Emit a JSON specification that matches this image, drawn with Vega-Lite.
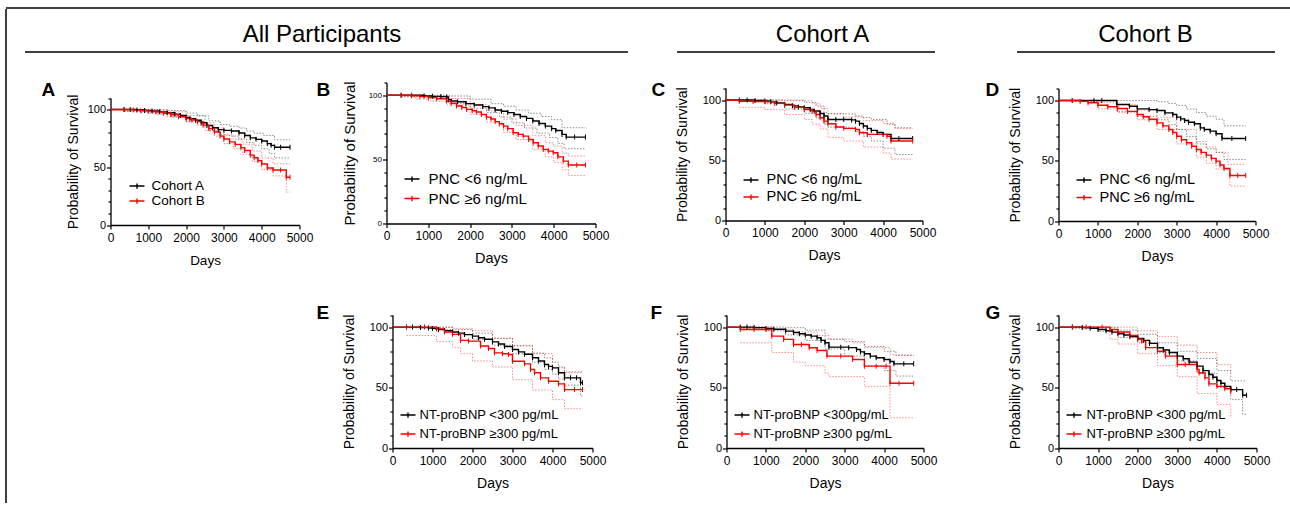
{
"$schema":"https://vega.github.io/schema/vega-lite/v6.json",
"padding":{"left":5.5,"top":7.5,"right":0,"bottom":0},
"background":"white",
"config":{"view":{"stroke":null},"font":"Liberation Sans",
"axis":{"grid":false,"domainColor":"#000","domainWidth":1.3,"tickColor":"#000","tickWidth":1.2,"labelColor":"#000","titleColor":"#000","titleFontWeight":"normal","labelFlush":false,"labelOverlap":false},
"legend":{"padding":0,"symbolSize":225,"symbolStrokeWidth":1.4,"labelColor":"#000","orient":"bottom-left"},
"title":{"color":"#000"}},
"resolve":{"scale":{"color":"independent"},"legend":{"color":"independent"}},
"datasets":{
"A":[
{"g":"a","s":"e","d":0,"p":100,"c":0},{"g":"a","s":"e","d":360,"p":100,"c":1},{"g":"a","s":"e","d":520,"p":100,"c":1},{"g":"a","s":"e","d":700,"p":99.6,"c":1},{"g":"a","s":"e","d":900,"p":99.2,"c":1},{"g":"a","s":"e","d":1100,"p":98.8,"c":1},{"g":"a","s":"e","d":1300,"p":98,"c":1},{"g":"a","s":"e","d":1500,"p":97.2,"c":1},{"g":"a","s":"e","d":1700,"p":96,"c":1},{"g":"a","s":"e","d":1850,"p":94.8,"c":1},{"g":"a","s":"e","d":2000,"p":93.2,"c":1},{"g":"a","s":"e","d":2100,"p":92,"c":1},{"g":"a","s":"e","d":2250,"p":90.7,"c":1},{"g":"a","s":"e","d":2400,"p":88.5,"c":1},{"g":"a","s":"e","d":2550,"p":86.2,"c":1},{"g":"a","s":"e","d":2700,"p":84.2,"c":1},{"g":"a","s":"e","d":2850,"p":82.6,"c":1},{"g":"a","s":"e","d":3000,"p":82,"c":1},{"g":"a","s":"e","d":3200,"p":81.4,"c":1},{"g":"a","s":"e","d":3400,"p":79.7,"c":1},{"g":"a","s":"e","d":3550,"p":77.5,"c":1},{"g":"a","s":"e","d":3700,"p":75.5,"c":1},{"g":"a","s":"e","d":3850,"p":74.2,"c":1},{"g":"a","s":"e","d":4000,"p":72.7,"c":1},{"g":"a","s":"e","d":4150,"p":70.5,"c":1},{"g":"a","s":"e","d":4250,"p":69,"c":1},{"g":"a","s":"e","d":4340,"p":67.4,"c":1},{"g":"a","s":"e","d":4500,"p":67.4,"c":1},{"g":"a","s":"e","d":4750,"p":67.4,"c":1},
{"g":"a","s":"u","d":360,"p":100},{"g":"a","s":"u","d":1000,"p":99.8},{"g":"a","s":"u","d":1500,"p":99.2},{"g":"a","s":"u","d":2000,"p":97},{"g":"a","s":"u","d":2300,"p":94.5},{"g":"a","s":"u","d":2600,"p":90.2},{"g":"a","s":"u","d":2900,"p":87},{"g":"a","s":"u","d":3150,"p":85.5},{"g":"a","s":"u","d":3400,"p":84},{"g":"a","s":"u","d":3600,"p":81.4},{"g":"a","s":"u","d":3800,"p":79.5},{"g":"a","s":"u","d":4050,"p":77.6},{"g":"a","s":"u","d":4340,"p":73.8},{"g":"a","s":"u","d":4750,"p":73.8},
{"g":"a","s":"l","d":360,"p":98.5},{"g":"a","s":"l","d":800,"p":97.5},{"g":"a","s":"l","d":1200,"p":96},{"g":"a","s":"l","d":1600,"p":93.5},{"g":"a","s":"l","d":2000,"p":89.5},{"g":"a","s":"l","d":2300,"p":86.5},{"g":"a","s":"l","d":2600,"p":81.5},{"g":"a","s":"l","d":2900,"p":78},{"g":"a","s":"l","d":3150,"p":77},{"g":"a","s":"l","d":3400,"p":74.5},{"g":"a","s":"l","d":3600,"p":71.5},{"g":"a","s":"l","d":3800,"p":69},{"g":"a","s":"l","d":4000,"p":66},{"g":"a","s":"l","d":4200,"p":62},{"g":"a","s":"l","d":4340,"p":58.1},{"g":"a","s":"l","d":4750,"p":58.1},
{"g":"b","s":"e","d":0,"p":100,"c":0},{"g":"b","s":"e","d":360,"p":100,"c":1},{"g":"b","s":"e","d":600,"p":99.5,"c":1},{"g":"b","s":"e","d":800,"p":99,"c":1},{"g":"b","s":"e","d":1000,"p":98.6,"c":1},{"g":"b","s":"e","d":1200,"p":97.8,"c":1},{"g":"b","s":"e","d":1400,"p":96.8,"c":1},{"g":"b","s":"e","d":1600,"p":95.5,"c":1},{"g":"b","s":"e","d":1800,"p":93.8,"c":1},{"g":"b","s":"e","d":2000,"p":92.2,"c":1},{"g":"b","s":"e","d":2150,"p":91,"c":1},{"g":"b","s":"e","d":2300,"p":89.5,"c":1},{"g":"b","s":"e","d":2450,"p":86.5,"c":1},{"g":"b","s":"e","d":2600,"p":83.5,"c":1},{"g":"b","s":"e","d":2750,"p":80.5,"c":1},{"g":"b","s":"e","d":2900,"p":77,"c":1},{"g":"b","s":"e","d":3000,"p":74.5,"c":1},{"g":"b","s":"e","d":3150,"p":72,"c":1},{"g":"b","s":"e","d":3300,"p":69.8,"c":1},{"g":"b","s":"e","d":3450,"p":67,"c":1},{"g":"b","s":"e","d":3550,"p":64.5,"c":1},{"g":"b","s":"e","d":3700,"p":60.5,"c":1},{"g":"b","s":"e","d":3800,"p":58.2,"c":1},{"g":"b","s":"e","d":3900,"p":55.8,"c":1},{"g":"b","s":"e","d":4000,"p":52.9,"c":1},{"g":"b","s":"e","d":4150,"p":49.4,"c":1},{"g":"b","s":"e","d":4300,"p":47.7,"c":1},{"g":"b","s":"e","d":4500,"p":47.7,"c":1},{"g":"b","s":"e","d":4650,"p":41.3,"c":1},{"g":"b","s":"e","d":4750,"p":41.3,"c":1},
{"g":"b","s":"u","d":360,"p":100},{"g":"b","s":"u","d":1000,"p":99.6},{"g":"b","s":"u","d":1500,"p":98},{"g":"b","s":"u","d":2000,"p":94.8},{"g":"b","s":"u","d":2500,"p":88.5},{"g":"b","s":"u","d":2750,"p":84},{"g":"b","s":"u","d":3000,"p":78},{"g":"b","s":"u","d":3250,"p":74},{"g":"b","s":"u","d":3500,"p":70},{"g":"b","s":"u","d":3750,"p":64},{"g":"b","s":"u","d":4000,"p":58},{"g":"b","s":"u","d":4300,"p":53},{"g":"b","s":"u","d":4750,"p":53},
{"g":"b","s":"l","d":360,"p":98.6},{"g":"b","s":"l","d":1000,"p":96.8},{"g":"b","s":"l","d":1500,"p":93.8},{"g":"b","s":"l","d":2000,"p":89.5},{"g":"b","s":"l","d":2500,"p":81.8},{"g":"b","s":"l","d":2750,"p":77},{"g":"b","s":"l","d":3000,"p":70.5},{"g":"b","s":"l","d":3250,"p":66},{"g":"b","s":"l","d":3500,"p":61},{"g":"b","s":"l","d":3750,"p":55},{"g":"b","s":"l","d":4000,"p":48},{"g":"b","s":"l","d":4300,"p":42.5},{"g":"b","s":"l","d":4650,"p":28.5},{"g":"b","s":"l","d":4750,"p":28.5}
],
"B":[
{"g":"a","s":"e","d":0,"p":100,"c":0},{"g":"a","s":"e","d":350,"p":100,"c":1},{"g":"a","s":"e","d":600,"p":100,"c":1},{"g":"a","s":"e","d":900,"p":99.5,"c":1},{"g":"a","s":"e","d":1100,"p":99.2,"c":1},{"g":"a","s":"e","d":1300,"p":99,"c":1},{"g":"a","s":"e","d":1440,"p":98.7,"c":1},{"g":"a","s":"e","d":1480,"p":96.5,"c":1},{"g":"a","s":"e","d":1550,"p":95.6,"c":1},{"g":"a","s":"e","d":1700,"p":95,"c":1},{"g":"a","s":"e","d":1900,"p":93.5,"c":1},{"g":"a","s":"e","d":2100,"p":92.5,"c":1},{"g":"a","s":"e","d":2300,"p":91.2,"c":1},{"g":"a","s":"e","d":2450,"p":90.2,"c":1},{"g":"a","s":"e","d":2600,"p":88.5,"c":1},{"g":"a","s":"e","d":2750,"p":87.6,"c":1},{"g":"a","s":"e","d":2900,"p":86.5,"c":1},{"g":"a","s":"e","d":3050,"p":85,"c":1},{"g":"a","s":"e","d":3200,"p":83.5,"c":1},{"g":"a","s":"e","d":3350,"p":82,"c":1},{"g":"a","s":"e","d":3500,"p":80,"c":1},{"g":"a","s":"e","d":3650,"p":78,"c":1},{"g":"a","s":"e","d":3800,"p":76,"c":1},{"g":"a","s":"e","d":3950,"p":74,"c":1},{"g":"a","s":"e","d":4050,"p":72.5,"c":1},{"g":"a","s":"e","d":4200,"p":69.5,"c":1},{"g":"a","s":"e","d":4300,"p":67.4,"c":1},{"g":"a","s":"e","d":4500,"p":67.4,"c":1},{"g":"a","s":"e","d":4760,"p":67.4,"c":1},
{"g":"a","s":"u","d":350,"p":100},{"g":"a","s":"u","d":1500,"p":99.5},{"g":"a","s":"u","d":2000,"p":97},{"g":"a","s":"u","d":2500,"p":93.5},{"g":"a","s":"u","d":2800,"p":91.5},{"g":"a","s":"u","d":3100,"p":88.5},{"g":"a","s":"u","d":3400,"p":86},{"g":"a","s":"u","d":3700,"p":83.5},{"g":"a","s":"u","d":3950,"p":81},{"g":"a","s":"u","d":4200,"p":74.7},{"g":"a","s":"u","d":4760,"p":74.7},
{"g":"a","s":"l","d":350,"p":99},{"g":"a","s":"l","d":1000,"p":98},{"g":"a","s":"l","d":1500,"p":93.5},{"g":"a","s":"l","d":2000,"p":90},{"g":"a","s":"l","d":2400,"p":86.5},{"g":"a","s":"l","d":2700,"p":83},{"g":"a","s":"l","d":3000,"p":78.5},{"g":"a","s":"l","d":3300,"p":74.5},{"g":"a","s":"l","d":3600,"p":70.5},{"g":"a","s":"l","d":3900,"p":67},{"g":"a","s":"l","d":4100,"p":62.5},{"g":"a","s":"l","d":4250,"p":58.3},{"g":"a","s":"l","d":4760,"p":58.3},
{"g":"b","s":"e","d":0,"p":100,"c":0},{"g":"b","s":"e","d":350,"p":100,"c":1},{"g":"b","s":"e","d":600,"p":99.6,"c":1},{"g":"b","s":"e","d":800,"p":99,"c":1},{"g":"b","s":"e","d":1000,"p":98.2,"c":1},{"g":"b","s":"e","d":1200,"p":97.3,"c":1},{"g":"b","s":"e","d":1435,"p":95.6,"c":1},{"g":"b","s":"e","d":1550,"p":93.8,"c":1},{"g":"b","s":"e","d":1675,"p":91.7,"c":1},{"g":"b","s":"e","d":1800,"p":90.5,"c":1},{"g":"b","s":"e","d":1915,"p":89,"c":1},{"g":"b","s":"e","d":2050,"p":88,"c":1},{"g":"b","s":"e","d":2150,"p":87,"c":1},{"g":"b","s":"e","d":2270,"p":85,"c":1},{"g":"b","s":"e","d":2390,"p":83,"c":1},{"g":"b","s":"e","d":2500,"p":81.5,"c":1},{"g":"b","s":"e","d":2600,"p":79.5,"c":1},{"g":"b","s":"e","d":2700,"p":77.8,"c":1},{"g":"b","s":"e","d":2800,"p":76,"c":1},{"g":"b","s":"e","d":2900,"p":74,"c":1},{"g":"b","s":"e","d":3030,"p":70.8,"c":1},{"g":"b","s":"e","d":3150,"p":69.5,"c":1},{"g":"b","s":"e","d":3270,"p":68.2,"c":1},{"g":"b","s":"e","d":3400,"p":65.5,"c":1},{"g":"b","s":"e","d":3510,"p":63,"c":1},{"g":"b","s":"e","d":3630,"p":60.5,"c":1},{"g":"b","s":"e","d":3750,"p":57.8,"c":1},{"g":"b","s":"e","d":3870,"p":56.5,"c":1},{"g":"b","s":"e","d":3990,"p":55.2,"c":1},{"g":"b","s":"e","d":4100,"p":52,"c":1},{"g":"b","s":"e","d":4230,"p":48.7,"c":1},{"g":"b","s":"e","d":4350,"p":45.6,"c":1},{"g":"b","s":"e","d":4550,"p":45.6,"c":1},{"g":"b","s":"e","d":4760,"p":45.6,"c":1},
{"g":"b","s":"u","d":350,"p":100},{"g":"b","s":"u","d":1000,"p":99.5},{"g":"b","s":"u","d":1500,"p":97.5},{"g":"b","s":"u","d":2000,"p":93},{"g":"b","s":"u","d":2400,"p":88},{"g":"b","s":"u","d":2800,"p":81.5},{"g":"b","s":"u","d":3100,"p":76.5},{"g":"b","s":"u","d":3500,"p":68.5},{"g":"b","s":"u","d":3800,"p":63},{"g":"b","s":"u","d":4000,"p":60.4},{"g":"b","s":"u","d":4200,"p":55},{"g":"b","s":"u","d":4350,"p":52.6},{"g":"b","s":"u","d":4760,"p":52.6},
{"g":"b","s":"l","d":350,"p":99},{"g":"b","s":"l","d":700,"p":97},{"g":"b","s":"l","d":1000,"p":95.5},{"g":"b","s":"l","d":1450,"p":92.5},{"g":"b","s":"l","d":2000,"p":85},{"g":"b","s":"l","d":2400,"p":79},{"g":"b","s":"l","d":2800,"p":71},{"g":"b","s":"l","d":3100,"p":65.5},{"g":"b","s":"l","d":3500,"p":57.5},{"g":"b","s":"l","d":3800,"p":52},{"g":"b","s":"l","d":4000,"p":47.7},{"g":"b","s":"l","d":4200,"p":42},{"g":"b","s":"l","d":4350,"p":37.5},{"g":"b","s":"l","d":4760,"p":37.5}
],
"C":[
{"g":"a","s":"e","d":0,"p":100,"c":0},{"g":"a","s":"e","d":350,"p":100,"c":1},{"g":"a","s":"e","d":550,"p":100,"c":1},{"g":"a","s":"e","d":750,"p":99.6,"c":1},{"g":"a","s":"e","d":1000,"p":99.2,"c":1},{"g":"a","s":"e","d":1150,"p":98.6,"c":1},{"g":"a","s":"e","d":1300,"p":97.6,"c":1},{"g":"a","s":"e","d":1500,"p":96.4,"c":1},{"g":"a","s":"e","d":1700,"p":95.2,"c":1},{"g":"a","s":"e","d":1850,"p":94.3,"c":1},{"g":"a","s":"e","d":2000,"p":93.6,"c":1},{"g":"a","s":"e","d":2150,"p":92,"c":1},{"g":"a","s":"e","d":2250,"p":90.9,"c":1},{"g":"a","s":"e","d":2400,"p":88.8,"c":1},{"g":"a","s":"e","d":2500,"p":86.7,"c":1},{"g":"a","s":"e","d":2600,"p":83.9,"c":1},{"g":"a","s":"e","d":2800,"p":83.9,"c":1},{"g":"a","s":"e","d":3000,"p":83.9,"c":1},{"g":"a","s":"e","d":3200,"p":83.5,"c":1},{"g":"a","s":"e","d":3300,"p":82.5,"c":1},{"g":"a","s":"e","d":3400,"p":80.5,"c":1},{"g":"a","s":"e","d":3500,"p":78.4,"c":1},{"g":"a","s":"e","d":3600,"p":76.5,"c":1},{"g":"a","s":"e","d":3700,"p":74.8,"c":1},{"g":"a","s":"e","d":3850,"p":73,"c":1},{"g":"a","s":"e","d":4000,"p":71.5,"c":1},{"g":"a","s":"e","d":4200,"p":68.1,"c":1},{"g":"a","s":"e","d":4400,"p":68.1,"c":1},{"g":"a","s":"e","d":4750,"p":68.1,"c":1},
{"g":"a","s":"u","d":350,"p":100},{"g":"a","s":"u","d":1500,"p":99.5},{"g":"a","s":"u","d":2000,"p":98},{"g":"a","s":"u","d":2300,"p":95},{"g":"a","s":"u","d":2500,"p":89.5},{"g":"a","s":"u","d":2600,"p":88.5},{"g":"a","s":"u","d":3300,"p":86.7},{"g":"a","s":"u","d":3500,"p":85.5},{"g":"a","s":"u","d":3700,"p":83.9},{"g":"a","s":"u","d":4100,"p":79.8},{"g":"a","s":"u","d":4300,"p":77},{"g":"a","s":"u","d":4750,"p":77},
{"g":"a","s":"l","d":350,"p":99},{"g":"a","s":"l","d":1000,"p":97},{"g":"a","s":"l","d":1500,"p":92.5},{"g":"a","s":"l","d":2000,"p":89},{"g":"a","s":"l","d":2300,"p":85},{"g":"a","s":"l","d":2500,"p":80},{"g":"a","s":"l","d":2600,"p":77.5},{"g":"a","s":"l","d":3300,"p":74},{"g":"a","s":"l","d":3500,"p":70},{"g":"a","s":"l","d":3700,"p":66},{"g":"a","s":"l","d":4000,"p":60},{"g":"a","s":"l","d":4300,"p":54.8},{"g":"a","s":"l","d":4750,"p":54.8},
{"g":"b","s":"e","d":0,"p":100,"c":0},{"g":"b","s":"e","d":350,"p":99,"c":1},{"g":"b","s":"e","d":700,"p":98.8,"c":1},{"g":"b","s":"e","d":1000,"p":98.6,"c":1},{"g":"b","s":"e","d":1250,"p":97.2,"c":1},{"g":"b","s":"e","d":1500,"p":95.8,"c":1},{"g":"b","s":"e","d":1750,"p":94,"c":1},{"g":"b","s":"e","d":2000,"p":92.2,"c":1},{"g":"b","s":"e","d":2200,"p":90.9,"c":1},{"g":"b","s":"e","d":2300,"p":88,"c":1},{"g":"b","s":"e","d":2400,"p":85.3,"c":1},{"g":"b","s":"e","d":2500,"p":82.5,"c":1},{"g":"b","s":"e","d":2600,"p":80.3,"c":1},{"g":"b","s":"e","d":2800,"p":77.6,"c":1},{"g":"b","s":"e","d":3000,"p":76.5,"c":1},{"g":"b","s":"e","d":3300,"p":75.6,"c":1},{"g":"b","s":"e","d":3400,"p":72.9,"c":1},{"g":"b","s":"e","d":3600,"p":71.5,"c":1},{"g":"b","s":"e","d":4100,"p":70,"c":1},{"g":"b","s":"e","d":4200,"p":66,"c":1},{"g":"b","s":"e","d":4750,"p":66,"c":1},
{"g":"b","s":"u","d":350,"p":100},{"g":"b","s":"u","d":2000,"p":99.5},{"g":"b","s":"u","d":2200,"p":97},{"g":"b","s":"u","d":2400,"p":93},{"g":"b","s":"u","d":2600,"p":88.9},{"g":"b","s":"u","d":3000,"p":86},{"g":"b","s":"u","d":3500,"p":83},{"g":"b","s":"u","d":4000,"p":80.5},{"g":"b","s":"u","d":4300,"p":76.5},{"g":"b","s":"u","d":4750,"p":76.5},
{"g":"b","s":"l","d":350,"p":94},{"g":"b","s":"l","d":1000,"p":92},{"g":"b","s":"l","d":1500,"p":88},{"g":"b","s":"l","d":2000,"p":84},{"g":"b","s":"l","d":2200,"p":80},{"g":"b","s":"l","d":2400,"p":76},{"g":"b","s":"l","d":2600,"p":69},{"g":"b","s":"l","d":3000,"p":66},{"g":"b","s":"l","d":3500,"p":61},{"g":"b","s":"l","d":4000,"p":56},{"g":"b","s":"l","d":4200,"p":51},{"g":"b","s":"l","d":4750,"p":51}
],
"D":[
{"g":"a","s":"e","d":0,"p":100,"c":0},{"g":"a","s":"e","d":350,"p":100,"c":1},{"g":"a","s":"e","d":900,"p":100,"c":1},{"g":"a","s":"e","d":1100,"p":100,"c":1},{"g":"a","s":"e","d":1480,"p":96.7,"c":1},{"g":"a","s":"e","d":1800,"p":95.3,"c":1},{"g":"a","s":"e","d":2000,"p":93.1,"c":1},{"g":"a","s":"e","d":2300,"p":92.5,"c":1},{"g":"a","s":"e","d":2500,"p":91.7,"c":1},{"g":"a","s":"e","d":2700,"p":89.8,"c":1},{"g":"a","s":"e","d":2900,"p":88.4,"c":1},{"g":"a","s":"e","d":3000,"p":86.2,"c":1},{"g":"a","s":"e","d":3100,"p":84.8,"c":1},{"g":"a","s":"e","d":3200,"p":83.4,"c":1},{"g":"a","s":"e","d":3300,"p":82,"c":1},{"g":"a","s":"e","d":3450,"p":80.7,"c":1},{"g":"a","s":"e","d":3600,"p":77.3,"c":1},{"g":"a","s":"e","d":3700,"p":76,"c":1},{"g":"a","s":"e","d":3850,"p":74.6,"c":1},{"g":"a","s":"e","d":4000,"p":72.4,"c":1},{"g":"a","s":"e","d":4150,"p":68.5,"c":1},{"g":"a","s":"e","d":4400,"p":68.5,"c":1},{"g":"a","s":"e","d":4750,"p":68.5,"c":1},
{"g":"a","s":"u","d":350,"p":100},{"g":"a","s":"u","d":2500,"p":99},{"g":"a","s":"u","d":2800,"p":97.5},{"g":"a","s":"u","d":3000,"p":96},{"g":"a","s":"u","d":3250,"p":93},{"g":"a","s":"u","d":3500,"p":90},{"g":"a","s":"u","d":3750,"p":87},{"g":"a","s":"u","d":4000,"p":84.5},{"g":"a","s":"u","d":4200,"p":79},{"g":"a","s":"u","d":4750,"p":79},
{"g":"a","s":"l","d":350,"p":100},{"g":"a","s":"l","d":1480,"p":91},{"g":"a","s":"l","d":2000,"p":87},{"g":"a","s":"l","d":2500,"p":84},{"g":"a","s":"l","d":2800,"p":80},{"g":"a","s":"l","d":3000,"p":76},{"g":"a","s":"l","d":3250,"p":70},{"g":"a","s":"l","d":3500,"p":64},{"g":"a","s":"l","d":3750,"p":60},{"g":"a","s":"l","d":4000,"p":57},{"g":"a","s":"l","d":4200,"p":51},{"g":"a","s":"l","d":4750,"p":51},
{"g":"b","s":"e","d":0,"p":100,"c":0},{"g":"b","s":"e","d":350,"p":100,"c":1},{"g":"b","s":"e","d":550,"p":99.3,"c":1},{"g":"b","s":"e","d":750,"p":98.2,"c":1},{"g":"b","s":"e","d":1000,"p":96.1,"c":1},{"g":"b","s":"e","d":1250,"p":94.8,"c":1},{"g":"b","s":"e","d":1500,"p":93.4,"c":1},{"g":"b","s":"e","d":1750,"p":91,"c":1},{"g":"b","s":"e","d":2000,"p":88.4,"c":1},{"g":"b","s":"e","d":2150,"p":86.5,"c":1},{"g":"b","s":"e","d":2300,"p":84.5,"c":1},{"g":"b","s":"e","d":2500,"p":81.5,"c":1},{"g":"b","s":"e","d":2650,"p":79,"c":1},{"g":"b","s":"e","d":2800,"p":76,"c":1},{"g":"b","s":"e","d":2900,"p":73.5,"c":1},{"g":"b","s":"e","d":3000,"p":70.4,"c":1},{"g":"b","s":"e","d":3120,"p":67.5,"c":1},{"g":"b","s":"e","d":3250,"p":65,"c":1},{"g":"b","s":"e","d":3380,"p":62,"c":1},{"g":"b","s":"e","d":3500,"p":59.4,"c":1},{"g":"b","s":"e","d":3620,"p":57,"c":1},{"g":"b","s":"e","d":3750,"p":54.7,"c":1},{"g":"b","s":"e","d":3880,"p":52,"c":1},{"g":"b","s":"e","d":4000,"p":49.7,"c":1},{"g":"b","s":"e","d":4100,"p":46.5,"c":1},{"g":"b","s":"e","d":4200,"p":43.6,"c":1},{"g":"b","s":"e","d":4350,"p":37.8,"c":1},{"g":"b","s":"e","d":4550,"p":37.8,"c":1},{"g":"b","s":"e","d":4750,"p":37.8,"c":1},
{"g":"b","s":"u","d":350,"p":100},{"g":"b","s":"u","d":1000,"p":98.5},{"g":"b","s":"u","d":1500,"p":96.5},{"g":"b","s":"u","d":2000,"p":92},{"g":"b","s":"u","d":2500,"p":86},{"g":"b","s":"u","d":3000,"p":76},{"g":"b","s":"u","d":3500,"p":66},{"g":"b","s":"u","d":3750,"p":61.5},{"g":"b","s":"u","d":4000,"p":57},{"g":"b","s":"u","d":4300,"p":47},{"g":"b","s":"u","d":4750,"p":47},
{"g":"b","s":"l","d":350,"p":99},{"g":"b","s":"l","d":1000,"p":93},{"g":"b","s":"l","d":1500,"p":90},{"g":"b","s":"l","d":2000,"p":84},{"g":"b","s":"l","d":2500,"p":76},{"g":"b","s":"l","d":3000,"p":64},{"g":"b","s":"l","d":3500,"p":53},{"g":"b","s":"l","d":3750,"p":48},{"g":"b","s":"l","d":4000,"p":43},{"g":"b","s":"l","d":4350,"p":29},{"g":"b","s":"l","d":4750,"p":29}
],
"E":[
{"g":"a","s":"e","d":0,"p":100,"c":0},{"g":"a","s":"e","d":350,"p":100,"c":1},{"g":"a","s":"e","d":500,"p":100,"c":1},{"g":"a","s":"e","d":700,"p":99.6,"c":1},{"g":"a","s":"e","d":900,"p":99.2,"c":1},{"g":"a","s":"e","d":1000,"p":98.9,"c":1},{"g":"a","s":"e","d":1150,"p":98,"c":1},{"g":"a","s":"e","d":1300,"p":97,"c":1},{"g":"a","s":"e","d":1500,"p":95.9,"c":1},{"g":"a","s":"e","d":1650,"p":95,"c":1},{"g":"a","s":"e","d":1800,"p":93.8,"c":1},{"g":"a","s":"e","d":2000,"p":92.5,"c":1},{"g":"a","s":"e","d":2150,"p":91.2,"c":1},{"g":"a","s":"e","d":2300,"p":90,"c":1},{"g":"a","s":"e","d":2500,"p":87.8,"c":1},{"g":"a","s":"e","d":2650,"p":86,"c":1},{"g":"a","s":"e","d":2800,"p":84,"c":1},{"g":"a","s":"e","d":3000,"p":81.5,"c":1},{"g":"a","s":"e","d":3150,"p":79.5,"c":1},{"g":"a","s":"e","d":3300,"p":77.5,"c":1},{"g":"a","s":"e","d":3500,"p":74.6,"c":1},{"g":"a","s":"e","d":3650,"p":72,"c":1},{"g":"a","s":"e","d":3800,"p":69,"c":1},{"g":"a","s":"e","d":3900,"p":67.5,"c":1},{"g":"a","s":"e","d":4000,"p":66.3,"c":1},{"g":"a","s":"e","d":4150,"p":62.2,"c":1},{"g":"a","s":"e","d":4300,"p":58,"c":1},{"g":"a","s":"e","d":4450,"p":58,"c":1},{"g":"a","s":"e","d":4600,"p":58,"c":1},{"g":"a","s":"e","d":4700,"p":54,"c":1},{"g":"a","s":"e","d":4750,"p":54,"c":1},
{"g":"a","s":"u","d":350,"p":100},{"g":"a","s":"u","d":1000,"p":99.8},{"g":"a","s":"u","d":1500,"p":98},{"g":"a","s":"u","d":2000,"p":95},{"g":"a","s":"u","d":2500,"p":90.5},{"g":"a","s":"u","d":3000,"p":84.5},{"g":"a","s":"u","d":3500,"p":78.5},{"g":"a","s":"u","d":3800,"p":74.5},{"g":"a","s":"u","d":4000,"p":71},{"g":"a","s":"u","d":4150,"p":67},{"g":"a","s":"u","d":4300,"p":63},{"g":"a","s":"u","d":4750,"p":62},
{"g":"a","s":"l","d":350,"p":99.5},{"g":"a","s":"l","d":1000,"p":98},{"g":"a","s":"l","d":1500,"p":94},{"g":"a","s":"l","d":2000,"p":90},{"g":"a","s":"l","d":2500,"p":85},{"g":"a","s":"l","d":3000,"p":78},{"g":"a","s":"l","d":3500,"p":71},{"g":"a","s":"l","d":3800,"p":65},{"g":"a","s":"l","d":4000,"p":61},{"g":"a","s":"l","d":4150,"p":57},{"g":"a","s":"l","d":4300,"p":52},{"g":"a","s":"l","d":4700,"p":43},{"g":"a","s":"l","d":4750,"p":43},
{"g":"b","s":"e","d":0,"p":100,"c":0},{"g":"b","s":"e","d":350,"p":100,"c":1},{"g":"b","s":"e","d":800,"p":100,"c":1},{"g":"b","s":"e","d":1100,"p":98.5,"c":1},{"g":"b","s":"e","d":1300,"p":96,"c":1},{"g":"b","s":"e","d":1500,"p":94,"c":1},{"g":"b","s":"e","d":1700,"p":89,"c":1},{"g":"b","s":"e","d":1900,"p":88.4,"c":1},{"g":"b","s":"e","d":2200,"p":84.3,"c":1},{"g":"b","s":"e","d":2400,"p":82.3,"c":1},{"g":"b","s":"e","d":2550,"p":78.7,"c":1},{"g":"b","s":"e","d":2750,"p":78,"c":1},{"g":"b","s":"e","d":2900,"p":77.3,"c":1},{"g":"b","s":"e","d":3000,"p":71.8,"c":1},{"g":"b","s":"e","d":3300,"p":69.6,"c":1},{"g":"b","s":"e","d":3450,"p":64.9,"c":1},{"g":"b","s":"e","d":3550,"p":62.2,"c":1},{"g":"b","s":"e","d":3700,"p":58,"c":1},{"g":"b","s":"e","d":3900,"p":55.2,"c":1},{"g":"b","s":"e","d":4150,"p":53,"c":1},{"g":"b","s":"e","d":4300,"p":48.3,"c":1},{"g":"b","s":"e","d":4550,"p":48.3,"c":1},{"g":"b","s":"e","d":4750,"p":48.3,"c":1},
{"g":"b","s":"u","d":350,"p":100},{"g":"b","s":"u","d":1500,"p":99},{"g":"b","s":"u","d":2000,"p":97},{"g":"b","s":"u","d":2500,"p":91},{"g":"b","s":"u","d":3000,"p":84.5},{"g":"b","s":"u","d":3500,"p":78},{"g":"b","s":"u","d":4000,"p":66.3},{"g":"b","s":"u","d":4300,"p":62.2},{"g":"b","s":"u","d":4750,"p":62.2},
{"g":"b","s":"l","d":350,"p":93},{"g":"b","s":"l","d":1100,"p":88},{"g":"b","s":"l","d":1500,"p":83},{"g":"b","s":"l","d":1700,"p":78},{"g":"b","s":"l","d":2000,"p":72},{"g":"b","s":"l","d":2500,"p":67},{"g":"b","s":"l","d":3000,"p":56.5},{"g":"b","s":"l","d":3500,"p":48},{"g":"b","s":"l","d":4000,"p":40},{"g":"b","s":"l","d":4300,"p":32.5},{"g":"b","s":"l","d":4750,"p":32.5}
],
"F":[
{"g":"a","s":"e","d":0,"p":100,"c":0},{"g":"a","s":"e","d":350,"p":100,"c":1},{"g":"a","s":"e","d":520,"p":100,"c":1},{"g":"a","s":"e","d":700,"p":99.6,"c":1},{"g":"a","s":"e","d":1000,"p":98.9,"c":1},{"g":"a","s":"e","d":1200,"p":98.2,"c":1},{"g":"a","s":"e","d":1500,"p":96.7,"c":1},{"g":"a","s":"e","d":1700,"p":95.5,"c":1},{"g":"a","s":"e","d":1850,"p":94.5,"c":1},{"g":"a","s":"e","d":2000,"p":93.4,"c":1},{"g":"a","s":"e","d":2150,"p":92.5,"c":1},{"g":"a","s":"e","d":2300,"p":91.2,"c":1},{"g":"a","s":"e","d":2400,"p":89,"c":1},{"g":"a","s":"e","d":2500,"p":87,"c":1},{"g":"a","s":"e","d":2600,"p":83.4,"c":1},{"g":"a","s":"e","d":2900,"p":83.4,"c":1},{"g":"a","s":"e","d":3100,"p":83,"c":1},{"g":"a","s":"e","d":3300,"p":81.5,"c":1},{"g":"a","s":"e","d":3400,"p":79.5,"c":1},{"g":"a","s":"e","d":3500,"p":77.9,"c":1},{"g":"a","s":"e","d":3650,"p":76,"c":1},{"g":"a","s":"e","d":3800,"p":74.6,"c":1},{"g":"a","s":"e","d":4000,"p":73.2,"c":1},{"g":"a","s":"e","d":4150,"p":71.5,"c":1},{"g":"a","s":"e","d":4250,"p":69.6,"c":1},{"g":"a","s":"e","d":4500,"p":69.6,"c":1},{"g":"a","s":"e","d":4750,"p":69.6,"c":1},
{"g":"a","s":"u","d":350,"p":100},{"g":"a","s":"u","d":1500,"p":99.5},{"g":"a","s":"u","d":2000,"p":97.5},{"g":"a","s":"u","d":2500,"p":90},{"g":"a","s":"u","d":3000,"p":88},{"g":"a","s":"u","d":3500,"p":84},{"g":"a","s":"u","d":4000,"p":80},{"g":"a","s":"u","d":4300,"p":76.5},{"g":"a","s":"u","d":4750,"p":76.5},
{"g":"a","s":"l","d":350,"p":99},{"g":"a","s":"l","d":1000,"p":97},{"g":"a","s":"l","d":1500,"p":93.5},{"g":"a","s":"l","d":2000,"p":89},{"g":"a","s":"l","d":2500,"p":82},{"g":"a","s":"l","d":3000,"p":76},{"g":"a","s":"l","d":3500,"p":68},{"g":"a","s":"l","d":4000,"p":64},{"g":"a","s":"l","d":4300,"p":59.5},{"g":"a","s":"l","d":4750,"p":59.5},
{"g":"b","s":"e","d":0,"p":100,"c":0},{"g":"b","s":"e","d":350,"p":98,"c":1},{"g":"b","s":"e","d":700,"p":98,"c":1},{"g":"b","s":"e","d":1000,"p":98,"c":1},{"g":"b","s":"e","d":1150,"p":92.5,"c":1},{"g":"b","s":"e","d":1450,"p":89.8,"c":1},{"g":"b","s":"e","d":1700,"p":85.6,"c":1},{"g":"b","s":"e","d":1900,"p":85.6,"c":1},{"g":"b","s":"e","d":2100,"p":82.9,"c":1},{"g":"b","s":"e","d":2300,"p":80.7,"c":1},{"g":"b","s":"e","d":2550,"p":76,"c":1},{"g":"b","s":"e","d":2900,"p":76,"c":1},{"g":"b","s":"e","d":3200,"p":73.2,"c":1},{"g":"b","s":"e","d":3500,"p":67.7,"c":1},{"g":"b","s":"e","d":3800,"p":67.7,"c":1},{"g":"b","s":"e","d":4050,"p":67.7,"c":1},{"g":"b","s":"e","d":4150,"p":53.6,"c":1},{"g":"b","s":"e","d":4380,"p":53.6,"c":1},{"g":"b","s":"e","d":4750,"p":53.6,"c":1},
{"g":"b","s":"u","d":350,"p":100},{"g":"b","s":"u","d":1150,"p":98},{"g":"b","s":"u","d":1700,"p":96},{"g":"b","s":"u","d":2300,"p":93},{"g":"b","s":"u","d":2600,"p":90},{"g":"b","s":"u","d":3200,"p":87},{"g":"b","s":"u","d":3500,"p":83},{"g":"b","s":"u","d":4150,"p":77},{"g":"b","s":"u","d":4750,"p":77},
{"g":"b","s":"l","d":350,"p":87},{"g":"b","s":"l","d":1150,"p":79},{"g":"b","s":"l","d":1700,"p":71},{"g":"b","s":"l","d":2000,"p":68},{"g":"b","s":"l","d":2500,"p":62},{"g":"b","s":"l","d":2600,"p":59},{"g":"b","s":"l","d":3500,"p":51},{"g":"b","s":"l","d":4150,"p":25},{"g":"b","s":"l","d":4750,"p":25}
],
"G":[
{"g":"a","s":"e","d":0,"p":100,"c":0},{"g":"a","s":"e","d":350,"p":100,"c":1},{"g":"a","s":"e","d":600,"p":99.6,"c":1},{"g":"a","s":"e","d":800,"p":99,"c":1},{"g":"a","s":"e","d":1000,"p":98,"c":1},{"g":"a","s":"e","d":1200,"p":97,"c":1},{"g":"a","s":"e","d":1350,"p":95.8,"c":1},{"g":"a","s":"e","d":1500,"p":94.5,"c":1},{"g":"a","s":"e","d":1650,"p":93.5,"c":1},{"g":"a","s":"e","d":1800,"p":92.2,"c":1},{"g":"a","s":"e","d":2000,"p":90.6,"c":1},{"g":"a","s":"e","d":2150,"p":89,"c":1},{"g":"a","s":"e","d":2300,"p":86.5,"c":1},{"g":"a","s":"e","d":2500,"p":82.9,"c":1},{"g":"a","s":"e","d":2650,"p":81,"c":1},{"g":"a","s":"e","d":2800,"p":79,"c":1},{"g":"a","s":"e","d":3000,"p":76,"c":1},{"g":"a","s":"e","d":3150,"p":73.8,"c":1},{"g":"a","s":"e","d":3300,"p":71,"c":1},{"g":"a","s":"e","d":3500,"p":67.7,"c":1},{"g":"a","s":"e","d":3650,"p":64,"c":1},{"g":"a","s":"e","d":3800,"p":60.8,"c":1},{"g":"a","s":"e","d":3900,"p":58.5,"c":1},{"g":"a","s":"e","d":4000,"p":55.8,"c":1},{"g":"a","s":"e","d":4100,"p":53.5,"c":1},{"g":"a","s":"e","d":4200,"p":51,"c":1},{"g":"a","s":"e","d":4350,"p":48.3,"c":1},{"g":"a","s":"e","d":4500,"p":48.3,"c":1},{"g":"a","s":"e","d":4650,"p":43.6,"c":1},{"g":"a","s":"e","d":4750,"p":43.6,"c":1},
{"g":"a","s":"u","d":350,"p":100},{"g":"a","s":"u","d":1000,"p":99.5},{"g":"a","s":"u","d":1500,"p":97.5},{"g":"a","s":"u","d":2000,"p":94},{"g":"a","s":"u","d":2500,"p":87},{"g":"a","s":"u","d":3000,"p":80},{"g":"a","s":"u","d":3500,"p":74},{"g":"a","s":"u","d":4000,"p":64},{"g":"a","s":"u","d":4350,"p":55.5},{"g":"a","s":"u","d":4750,"p":55.5},
{"g":"a","s":"l","d":350,"p":99},{"g":"a","s":"l","d":1000,"p":96.5},{"g":"a","s":"l","d":1500,"p":91.5},{"g":"a","s":"l","d":2000,"p":87},{"g":"a","s":"l","d":2500,"p":79},{"g":"a","s":"l","d":3000,"p":72},{"g":"a","s":"l","d":3500,"p":62},{"g":"a","s":"l","d":4000,"p":50},{"g":"a","s":"l","d":4350,"p":40},{"g":"a","s":"l","d":4650,"p":28},{"g":"a","s":"l","d":4750,"p":28},
{"g":"b","s":"e","d":0,"p":100,"c":0},{"g":"b","s":"e","d":350,"p":100,"c":1},{"g":"b","s":"e","d":700,"p":100,"c":1},{"g":"b","s":"e","d":1100,"p":100,"c":1},{"g":"b","s":"e","d":1300,"p":98,"c":1},{"g":"b","s":"e","d":1500,"p":96,"c":1},{"g":"b","s":"e","d":1800,"p":93,"c":1},{"g":"b","s":"e","d":2000,"p":90,"c":1},{"g":"b","s":"e","d":2100,"p":88.4,"c":1},{"g":"b","s":"e","d":2200,"p":83,"c":1},{"g":"b","s":"e","d":2500,"p":80,"c":1},{"g":"b","s":"e","d":2700,"p":76,"c":1},{"g":"b","s":"e","d":3000,"p":69,"c":1},{"g":"b","s":"e","d":3200,"p":69,"c":1},{"g":"b","s":"e","d":3500,"p":65,"c":1},{"g":"b","s":"e","d":3550,"p":62,"c":1},{"g":"b","s":"e","d":3700,"p":58,"c":1},{"g":"b","s":"e","d":3800,"p":53,"c":1},{"g":"b","s":"e","d":4000,"p":51,"c":1},{"g":"b","s":"e","d":4200,"p":49,"c":1},{"g":"b","s":"e","d":4350,"p":46.5,"c":1},
{"g":"b","s":"u","d":350,"p":100},{"g":"b","s":"u","d":1800,"p":100},{"g":"b","s":"u","d":2000,"p":97},{"g":"b","s":"u","d":2500,"p":92},{"g":"b","s":"u","d":3000,"p":85},{"g":"b","s":"u","d":3500,"p":79},{"g":"b","s":"u","d":4000,"p":69},{"g":"b","s":"u","d":4350,"p":62},
{"g":"b","s":"l","d":350,"p":100},{"g":"b","s":"l","d":1300,"p":90},{"g":"b","s":"l","d":1500,"p":86},{"g":"b","s":"l","d":2000,"p":78},{"g":"b","s":"l","d":2500,"p":68},{"g":"b","s":"l","d":3000,"p":59},{"g":"b","s":"l","d":3500,"p":45},{"g":"b","s":"l","d":4000,"p":36},{"g":"b","s":"l","d":4350,"p":26}
]
},
"spacing":0,
"vconcat":[
{"width":1284,"height":1,"data":{"values":[{"v":0}]},"mark":{"type":"point","opacity":0,"size":0},
 "encoding":{"x":{"field":"v","type":"quantitative","scale":{"domain":[0,1]},"axis":{"orient":"top","labels":false,"ticks":false,"title":null,"domainWidth":1.5}}}},
{"hconcat":[
 {"width":19,"height":43,"data":{"values":[{"v":0}]},"mark":{"type":"point","opacity":0,"size":0},"encoding":{"y":{"field":"v","type":"quantitative","scale":{"domain":[0,1]},"axis":{"labels":false,"ticks":false,"title":null,"domainWidth":1.5}}}},
 {"width":603,"height":43,"data":{"values":[{"h":"All Participants"}]},"mark":{"type":"text","fontSize":24,"baseline":"alphabetic","dy":12,"dx":-4},"encoding":{"x":{"field":"h","type":"nominal","axis":{"labels":false,"ticks":false,"title":null,"domainWidth":1.3}},"text":{"field":"h"}}},
 {"width":49,"height":43,"data":{"values":[{}]},"mark":{"type":"point","opacity":0,"size":0},"encoding":{}},
 {"width":258,"height":43,"data":{"values":[{"h":"Cohort A"}]},"mark":{"type":"text","fontSize":24,"baseline":"alphabetic","dy":12,"dx":17},"encoding":{"x":{"field":"h","type":"nominal","axis":{"labels":false,"ticks":false,"title":null,"domainWidth":1.3}},"text":{"field":"h"}}},
 {"width":82,"height":43,"data":{"values":[{}]},"mark":{"type":"point","opacity":0,"size":0},"encoding":{}},
 {"width":258,"height":43,"data":{"values":[{"h":"Cohort B"}]},"mark":{"type":"text","fontSize":24,"baseline":"alphabetic","dy":12},"encoding":{"x":{"field":"h","type":"nominal","axis":{"labels":false,"ticks":false,"title":null,"domainWidth":1.3}},"text":{"field":"h"}}}
],"spacing":0,"bounds":"flush"},
{"hconcat":[
 {"width":105,"height":219,"data":{"values":[{"v":0}]},"mark":{"type":"point","opacity":0,"size":0},"encoding":{"y":{"field":"v","type":"quantitative","scale":{"domain":[0,1]},"axis":{"labels":false,"ticks":false,"title":null,"domainWidth":1.5}}}},
 {"width":189,"height":173.5,
  "title":{"text":"A","anchor":"start","frame":"group","offset":0,"dx":-69,"dy":63.5,"baseline":"alphabetic","fontSize":19,"fontWeight":"bold"},
  "data":{"name":"A"},
  "encoding":{
   "x":{"field":"d","type":"quantitative","scale":{"domain":[0,5000]},"axis":{"values":[0,1000,2000,3000,4000,5000],"format":"d","title":"Days","tickSize":4,"labelPadding":3,"labelFontSize":12,"titleFontSize":13.5,"titlePadding":10}},
   "y":{"field":"p","type":"quantitative","scale":{"domain":[0,110],"range":[173.5,46.5]},"axis":{"values":[0,10,20,30,40,50,60,70,80,90,100,110],"labelExpr":"datum.value % 50 === 0 ? datum.label : ''","tickSize":{"condition":{"test":"datum.value % 50 === 0","value":4},"value":2.5},"labelFontSize":11,"labelPadding":1,"title":"Probability of Survival","titleFontSize":14,"titlePadding":7}}},
  "layer":[
   {"transform":[{"filter":"datum.s != 'e'"}],"mark":{"type":"line","interpolate":"step-after","strokeDash":[1.5,1.5],"strokeWidth":1,"opacity":0.45},"encoding":{"detail":[{"field":"g"},{"field":"s"}],"stroke":{"condition":{"test":"datum.g == 'a'","value":"#000000"},"value":"#ff0000"}}},
   {"transform":[{"filter":"datum.s == 'e'"}],"mark":{"type":"line","interpolate":"step-after","strokeWidth":1.4},"encoding":{"color":{"field":"g","type":"nominal","scale":{"domain":["a","b"],"range":["#000000","#ff0000"]},"legend":{"title":null,"symbolType":"M-1,0H1M0,-0.35V0.35","offset":18,"labelFontSize":13.5,"labelOffset":6,"rowPadding":0,"labelExpr":"datum.value == 'a' ? 'Cohort A' : 'Cohort B'"}}}},
   {"transform":[{"filter":"datum.c == 1"}],"mark":{"type":"tick","orient":"vertical","size":5,"thickness":1,"opacity":1},"encoding":{"fill":{"condition":{"test":"datum.g == 'a'","value":"#000000"},"value":"#ff0000"}}}
  ]},
 {"width":87,"height":1,"data":{"values":[{}]},"mark":{"type":"point","opacity":0,"size":0},"encoding":{}},
 {"width":209,"height":172,
  "title":{"text":"B","anchor":"start","frame":"group","offset":0,"dx":-70,"dy":63.5,"baseline":"alphabetic","fontSize":19,"fontWeight":"bold"},
  "data":{"name":"B"},
  "encoding":{
   "x":{"field":"d","type":"quantitative","scale":{"domain":[0,5000]},"axis":{"values":[0,1000,2000,3000,4000,5000],"format":"d","title":"Days","tickSize":4,"labelPadding":3,"labelFontSize":12,"titleFontSize":14.5,"titlePadding":10}},
   "y":{"field":"p","type":"quantitative","scale":{"domain":[0,110],"range":[172,31]},"axis":{"values":[0,10,20,30,40,50,60,70,80,90,100,110],"labelExpr":"datum.value % 50 === 0 ? datum.label : ''","tickSize":{"condition":{"test":"datum.value % 50 === 0","value":4},"value":2.5},"labelFontSize":8,"labelPadding":1,"title":"Probability of Survival","titleFontSize":15,"titlePadding":11}}},
  "layer":[
   {"transform":[{"filter":"datum.s != 'e'"}],"mark":{"type":"line","interpolate":"step-after","strokeDash":[1.5,1.5],"strokeWidth":1,"opacity":0.45},"encoding":{"detail":[{"field":"g"},{"field":"s"}],"stroke":{"condition":{"test":"datum.g == 'a'","value":"#000000"},"value":"#ff0000"}}},
   {"transform":[{"filter":"datum.s == 'e'"}],"mark":{"type":"line","interpolate":"step-after","strokeWidth":1.4},"encoding":{"color":{"field":"g","type":"nominal","scale":{"domain":["a","b"],"range":["#000000","#ff0000"]},"legend":{"title":null,"symbolType":"M-1,0H1M0,-0.35V0.35","offset":17,"labelFontSize":15,"labelOffset":8,"rowPadding":2.5,"labelExpr":"datum.value == 'a' ? 'PNC <6 ng/mL' : 'PNC ≥6 ng/mL'"}}}},
   {"transform":[{"filter":"datum.c == 1"}],"mark":{"type":"tick","orient":"vertical","size":5,"thickness":1,"opacity":1},"encoding":{"fill":{"condition":{"test":"datum.g == 'a'","value":"#000000"},"value":"#ff0000"}}}
  ]},
 {"width":130,"height":1,"data":{"values":[{}]},"mark":{"type":"point","opacity":0,"size":0},"encoding":{}},
 {"width":197,"height":169,
  "title":{"text":"C","anchor":"start","frame":"group","offset":0,"dx":-74,"dy":63.5,"baseline":"alphabetic","fontSize":19,"fontWeight":"bold"},
  "data":{"name":"C"},
  "encoding":{
   "x":{"field":"d","type":"quantitative","scale":{"domain":[0,5000]},"axis":{"values":[0,1000,2000,3000,4000,5000],"format":"d","title":"Days","tickSize":4,"labelPadding":3,"labelFontSize":12,"titleFontSize":14,"titlePadding":10}},
   "y":{"field":"p","type":"quantitative","scale":{"domain":[0,110],"range":[169,36.5]},"axis":{"values":[0,10,20,30,40,50,60,70,80,90,100,110],"labelExpr":"datum.value % 50 === 0 ? datum.label : ''","tickSize":{"condition":{"test":"datum.value % 50 === 0","value":4},"value":2.5},"labelFontSize":11,"labelPadding":1,"title":"Probability of Survival","titleFontSize":14,"titlePadding":13}}},
  "layer":[
   {"transform":[{"filter":"datum.s != 'e'"}],"mark":{"type":"line","interpolate":"step-after","strokeDash":[1.5,1.5],"strokeWidth":1,"opacity":0.45},"encoding":{"detail":[{"field":"g"},{"field":"s"}],"stroke":{"condition":{"test":"datum.g == 'a'","value":"#000000"},"value":"#ff0000"}}},
   {"transform":[{"filter":"datum.s == 'e'"}],"mark":{"type":"line","interpolate":"step-after","strokeWidth":1.4},"encoding":{"color":{"field":"g","type":"nominal","scale":{"domain":["a","b"],"range":["#000000","#ff0000"]},"legend":{"title":null,"symbolType":"M-1,0H1M0,-0.35V0.35","offset":17,"labelFontSize":14.5,"labelOffset":7,"rowPadding":2,"labelExpr":"datum.value == 'a' ? 'PNC <6 ng/mL' : 'PNC ≥6 ng/mL'"}}}},
   {"transform":[{"filter":"datum.c == 1"}],"mark":{"type":"tick","orient":"vertical","size":5,"thickness":1,"opacity":1},"encoding":{"fill":{"condition":{"test":"datum.g == 'a'","value":"#000000"},"value":"#ff0000"}}}
  ]},
 {"width":136,"height":1,"data":{"values":[{}]},"mark":{"type":"point","opacity":0,"size":0},"encoding":{}},
 {"width":197,"height":169.5,
  "title":{"text":"D","anchor":"start","frame":"group","offset":0,"dx":-73,"dy":63.5,"baseline":"alphabetic","fontSize":19,"fontWeight":"bold"},
  "data":{"name":"D"},
  "encoding":{
   "x":{"field":"d","type":"quantitative","scale":{"domain":[0,5000]},"axis":{"values":[0,1000,2000,3000,4000,5000],"format":"d","title":"Days","tickSize":4,"labelPadding":3,"labelFontSize":12,"titleFontSize":14,"titlePadding":10}},
   "y":{"field":"p","type":"quantitative","scale":{"domain":[0,110],"range":[169.5,37]},"axis":{"values":[0,10,20,30,40,50,60,70,80,90,100,110],"labelExpr":"datum.value % 50 === 0 ? datum.label : ''","tickSize":{"condition":{"test":"datum.value % 50 === 0","value":4},"value":2.5},"labelFontSize":11,"labelPadding":1,"title":"Probability of Survival","titleFontSize":14,"titlePadding":13}}},
  "layer":[
   {"transform":[{"filter":"datum.s != 'e'"}],"mark":{"type":"line","interpolate":"step-after","strokeDash":[1.5,1.5],"strokeWidth":1,"opacity":0.45},"encoding":{"detail":[{"field":"g"},{"field":"s"}],"stroke":{"condition":{"test":"datum.g == 'a'","value":"#000000"},"value":"#ff0000"}}},
   {"transform":[{"filter":"datum.s == 'e'"}],"mark":{"type":"line","interpolate":"step-after","strokeWidth":1.4},"encoding":{"color":{"field":"g","type":"nominal","scale":{"domain":["a","b"],"range":["#000000","#ff0000"]},"legend":{"title":null,"symbolType":"M-1,0H1M0,-0.35V0.35","offset":17,"labelFontSize":14.5,"labelOffset":7,"rowPadding":2.5,"labelExpr":"datum.value == 'a' ? 'PNC <6 ng/mL' : 'PNC ≥6 ng/mL'"}}}},
   {"transform":[{"filter":"datum.c == 1"}],"mark":{"type":"tick","orient":"vertical","size":5,"thickness":1,"opacity":1},"encoding":{"fill":{"condition":{"test":"datum.g == 'a'","value":"#000000"},"value":"#ff0000"}}}
  ]}
],"spacing":0,"bounds":"flush","resolve":{"scale":{"color":"independent"},"legend":{"color":"independent"}}},
{"hconcat":[
 {"width":387,"height":232,"data":{"values":[{"v":0}]},"mark":{"type":"point","opacity":0,"size":0},"encoding":{"y":{"field":"v","type":"quantitative","scale":{"domain":[0,1]},"axis":{"labels":false,"ticks":false,"title":null,"domainWidth":1.5}}}},
 {"width":200,"height":177.5,
  "title":{"text":"E","anchor":"start","frame":"group","offset":0,"dx":-76,"dy":67,"baseline":"alphabetic","fontSize":19,"fontWeight":"bold"},
  "data":{"name":"E"},
  "encoding":{
   "x":{"field":"d","type":"quantitative","scale":{"domain":[0,5000]},"axis":{"values":[0,1000,2000,3000,4000,5000],"format":"d","title":"Days","tickSize":4,"labelPadding":3,"labelFontSize":12,"titleFontSize":14,"titlePadding":10}},
   "y":{"field":"p","type":"quantitative","scale":{"domain":[0,110],"range":[177.5,44.5]},"axis":{"values":[0,10,20,30,40,50,60,70,80,90,100,110],"labelExpr":"datum.value % 50 === 0 ? datum.label : ''","tickSize":{"condition":{"test":"datum.value % 50 === 0","value":4},"value":2.5},"labelFontSize":11,"labelPadding":1,"title":"Probability of Survival","titleFontSize":14,"titlePadding":13}}},
  "layer":[
   {"transform":[{"filter":"datum.s != 'e'"}],"mark":{"type":"line","interpolate":"step-after","strokeDash":[1.5,1.5],"strokeWidth":1,"opacity":0.45},"encoding":{"detail":[{"field":"g"},{"field":"s"}],"stroke":{"condition":{"test":"datum.g == 'a'","value":"#000000"},"value":"#ff0000"}}},
   {"transform":[{"filter":"datum.s == 'e'"}],"mark":{"type":"line","interpolate":"step-after","strokeWidth":1.4},"encoding":{"color":{"field":"g","type":"nominal","scale":{"domain":["a","b"],"range":["#000000","#ff0000"]},"legend":{"title":null,"symbolType":"M-1,0H1M0,-0.35V0.35","offset":7,"labelFontSize":13,"labelOffset":3,"rowPadding":3,"labelExpr":"datum.value == 'a' ? 'NT-proBNP <300 pg/mL' : 'NT-proBNP ≥300 pg/mL'"}}}},
   {"transform":[{"filter":"datum.c == 1"}],"mark":{"type":"tick","orient":"vertical","size":5,"thickness":1,"opacity":1},"encoding":{"fill":{"condition":{"test":"datum.g == 'a'","value":"#000000"},"value":"#ff0000"}}}
  ]},
 {"width":134,"height":1,"data":{"values":[{}]},"mark":{"type":"point","opacity":0,"size":0},"encoding":{}},
 {"width":197,"height":177.5,
  "title":{"text":"F","anchor":"start","frame":"group","offset":0,"dx":-76,"dy":67,"baseline":"alphabetic","fontSize":19,"fontWeight":"bold"},
  "data":{"name":"F"},
  "encoding":{
   "x":{"field":"d","type":"quantitative","scale":{"domain":[0,5000]},"axis":{"values":[0,1000,2000,3000,4000,5000],"format":"d","title":"Days","tickSize":4,"labelPadding":3,"labelFontSize":12,"titleFontSize":14,"titlePadding":10}},
   "y":{"field":"p","type":"quantitative","scale":{"domain":[0,110],"range":[177.5,44.5]},"axis":{"values":[0,10,20,30,40,50,60,70,80,90,100,110],"labelExpr":"datum.value % 50 === 0 ? datum.label : ''","tickSize":{"condition":{"test":"datum.value % 50 === 0","value":4},"value":2.5},"labelFontSize":11,"labelPadding":1,"title":"Probability of Survival","titleFontSize":14,"titlePadding":13}}},
  "layer":[
   {"transform":[{"filter":"datum.s != 'e'"}],"mark":{"type":"line","interpolate":"step-after","strokeDash":[1.5,1.5],"strokeWidth":1,"opacity":0.45},"encoding":{"detail":[{"field":"g"},{"field":"s"}],"stroke":{"condition":{"test":"datum.g == 'a'","value":"#000000"},"value":"#ff0000"}}},
   {"transform":[{"filter":"datum.s == 'e'"}],"mark":{"type":"line","interpolate":"step-after","strokeWidth":1.4},"encoding":{"color":{"field":"g","type":"nominal","scale":{"domain":["a","b"],"range":["#000000","#ff0000"]},"legend":{"title":null,"symbolType":"M-1,0H1M0,-0.35V0.35","offset":6.5,"labelFontSize":13,"labelOffset":3,"rowPadding":3,"labelExpr":"datum.value == 'a' ? 'NT-proBNP <300pg/mL' : 'NT-proBNP ≥300 pg/mL'"}}}},
   {"transform":[{"filter":"datum.c == 1"}],"mark":{"type":"tick","orient":"vertical","size":5,"thickness":1,"opacity":1},"encoding":{"fill":{"condition":{"test":"datum.g == 'a'","value":"#000000"},"value":"#ff0000"}}}
  ]},
 {"width":135,"height":1,"data":{"values":[{}]},"mark":{"type":"point","opacity":0,"size":0},"encoding":{}},
 {"width":198,"height":177.5,
  "title":{"text":"G","anchor":"start","frame":"group","offset":0,"dx":-73,"dy":67,"baseline":"alphabetic","fontSize":19,"fontWeight":"bold"},
  "data":{"name":"G"},
  "encoding":{
   "x":{"field":"d","type":"quantitative","scale":{"domain":[0,5000]},"axis":{"values":[0,1000,2000,3000,4000,5000],"format":"d","title":"Days","tickSize":4,"labelPadding":3,"labelFontSize":12,"titleFontSize":14,"titlePadding":10}},
   "y":{"field":"p","type":"quantitative","scale":{"domain":[0,110],"range":[177.5,44.5]},"axis":{"values":[0,10,20,30,40,50,60,70,80,90,100,110],"labelExpr":"datum.value % 50 === 0 ? datum.label : ''","tickSize":{"condition":{"test":"datum.value % 50 === 0","value":4},"value":2.5},"labelFontSize":11,"labelPadding":1,"title":"Probability of Survival","titleFontSize":14,"titlePadding":13}}},
  "layer":[
   {"transform":[{"filter":"datum.s != 'e'"}],"mark":{"type":"line","interpolate":"step-after","strokeDash":[1.5,1.5],"strokeWidth":1,"opacity":0.45},"encoding":{"detail":[{"field":"g"},{"field":"s"}],"stroke":{"condition":{"test":"datum.g == 'a'","value":"#000000"},"value":"#ff0000"}}},
   {"transform":[{"filter":"datum.s == 'e'"}],"mark":{"type":"line","interpolate":"step-after","strokeWidth":1.4},"encoding":{"color":{"field":"g","type":"nominal","scale":{"domain":["a","b"],"range":["#000000","#ff0000"]},"legend":{"title":null,"symbolType":"M-1,0H1M0,-0.35V0.35","offset":6.5,"labelFontSize":13,"labelOffset":4,"rowPadding":3,"labelExpr":"datum.value == 'a' ? 'NT-proBNP <300 pg/mL' : 'NT-proBNP ≥300 pg/mL'"}}}},
   {"transform":[{"filter":"datum.c == 1"}],"mark":{"type":"tick","orient":"vertical","size":5,"thickness":1,"opacity":1},"encoding":{"fill":{"condition":{"test":"datum.g == 'a'","value":"#000000"},"value":"#ff0000"}}}
  ]}
],"spacing":0,"bounds":"flush","resolve":{"scale":{"color":"independent"},"legend":{"color":"independent"}}}
]
}
